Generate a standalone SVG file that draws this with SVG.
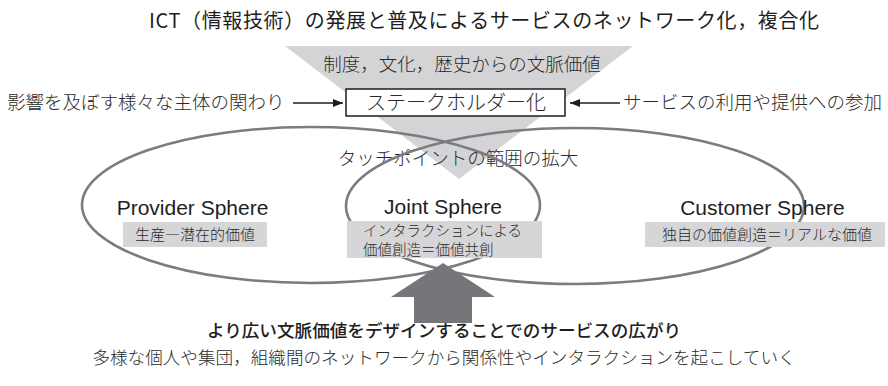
<svg xmlns="http://www.w3.org/2000/svg" width="888" height="386" viewBox="0 0 888 386">
<style>
.g{font-family:"Noto Sans CJK JP","Liberation Sans",sans-serif;fill:#1e1e1e}
.m{font-family:"Noto Sans CJK JP","Liberation Serif",serif;fill:#2a2a2a;font-weight:300}
.lat{font-family:"Liberation Sans","Noto Sans",sans-serif;fill:#1e1e1e;font-size:21px}
.sph{fill:none;stroke:#7c7c80;stroke-width:2.6}
.lbl{fill:#d6d6d8}
.con{stroke:#1e1e1e;stroke-width:1.3;fill:none}
</style>
<defs>
<marker id="ah" viewBox="0 0 10 10" refX="10" refY="5" markerWidth="10" markerHeight="10" markerUnits="userSpaceOnUse" orient="auto">
<path d="M0,1 L10,5 L0,9 Z" fill="#1e1e1e"/>
</marker>
</defs>
<rect width="888" height="386" fill="#fff"/>
<text class="g" x="484" y="27.5" font-size="20" text-anchor="middle" textLength="670">ICT（情報技術）の発展と普及によるサービスのネットワーク化，複合化</text>
<g id="funnel">
<polygon points="285,46 633,46 459,179" fill="#d4d4d6"/>
<text class="m" x="462" y="71" font-size="18.5" text-anchor="middle">制度，文化，歴史からの文脈価値</text>
<text class="m" x="458" y="165" font-size="18.5" text-anchor="middle">タッチポイントの範囲の拡大</text>
</g>
<g id="spheres">
<ellipse class="sph" cx="311" cy="205" rx="229" ry="78"/>
<ellipse class="sph" cx="575" cy="206" rx="229" ry="78"/>
</g>
<g id="stakeholder">
<rect x="346" y="89" width="219" height="27" fill="#fff" stroke="#1e1e1e" stroke-width="1.5"/>
<text class="m" x="456" y="110" font-size="20" text-anchor="middle">ステークホルダー化</text>
</g>
<g id="influence">
<text class="m" x="7" y="109" font-size="18.5">影響を及ぼす様々な主体の関わり</text>
</g>
<g id="participation">
<text class="m" x="623" y="109" font-size="18.5">サービスの利用や提供への参加</text>
</g>
<g id="connectors">
<line class="con" x1="293" y1="103" x2="343" y2="103" marker-end="url(#ah)"/>
<line class="con" x1="620" y1="103" x2="570" y2="103" marker-end="url(#ah)"/>
</g>
<g id="provider">
<text class="lat" x="192.5" y="215" text-anchor="middle">Provider Sphere</text>
<rect class="lbl" x="123" y="222" width="144" height="25"/>
<text class="m" x="195" y="240" font-size="15" text-anchor="middle">生産―潜在的価値</text>
</g>
<g id="joint">
<text class="lat" x="443" y="214" text-anchor="middle">Joint Sphere</text>
<rect class="lbl" x="347" y="221" width="195" height="37"/>
<text class="m" x="363" y="235.5" font-size="14.5">インタラクションによる</text>
<text class="m" x="363" y="255" font-size="14.5">価値創造＝価値共創</text>
</g>
<g id="customer">
<text class="lat" x="762.5" y="215" text-anchor="middle">Customer Sphere</text>
<rect class="lbl" x="645" y="222" width="240" height="25"/>
<text class="m" x="767" y="240" font-size="15" text-anchor="middle">独自の価値創造＝リアルな価値</text>
</g>
<g id="design">
<polygon points="443,263 495,297 472,297 472,323 414,323 414,297 391,297" fill="#76767a"/>
<text class="g" x="444" y="337" font-size="17.6" font-weight="500" text-anchor="middle">より広い文脈価値をデザインすることでのサービスの広がり</text>
<text class="m" x="444" y="364" font-size="17.6" text-anchor="middle">多様な個人や集団，組織間のネットワークから関係性やインタラクションを起こしていく</text>
</g>
</svg>
